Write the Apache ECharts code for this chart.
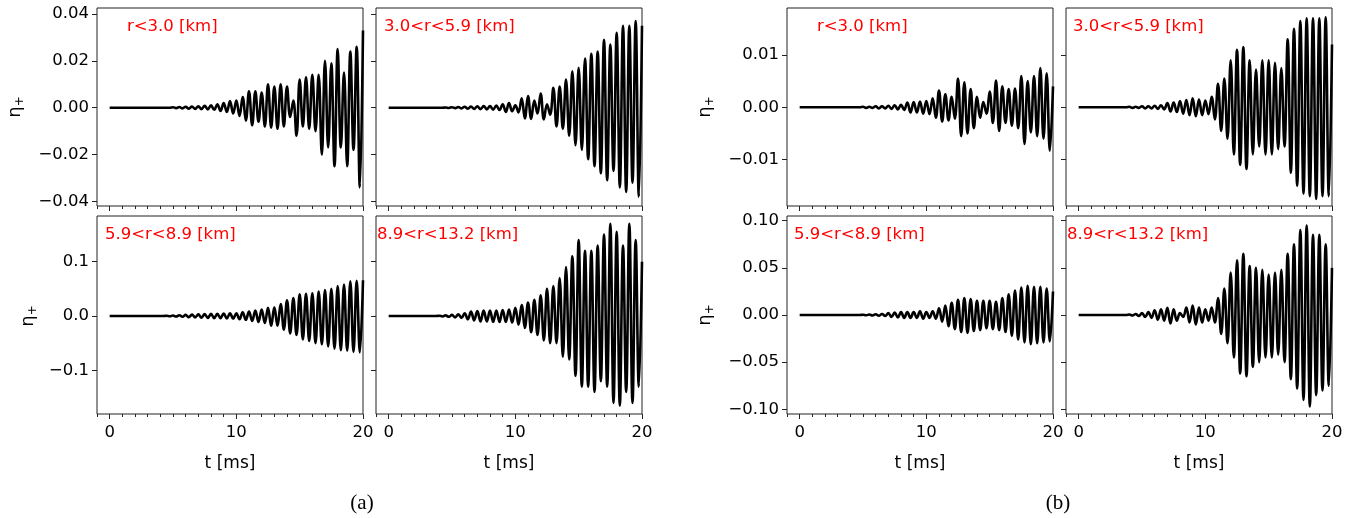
<!DOCTYPE html>
<html><head><meta charset="utf-8">
<script src="https://cdn.jsdelivr.net/npm/echarts@6/dist/echarts.min.js"></script>
<style>html,body{margin:0;padding:0;background:#fff}#c{width:1370px;height:518px}</style>
</head><body><div id="c"></div>
<script>
// time grid of sampled extrema [ms]
const tMs = [0,0.25,0.5,0.75,1,1.25,1.5,1.75,2,2.25,2.5,2.75,3,3.25,3.5,3.75,4,4.25,4.5,4.75,
  5,5.25,5.5,5.75,6,6.25,6.5,6.75,7,7.25,7.5,7.75,8,8.25,8.5,8.75,9,9.25,9.5,9.75,
  10,10.25,10.5,10.75,11,11.25,11.5,11.75,12,12.25,12.5,12.75,13,13.25,13.5,13.75,14,14.25,14.5,14.75,
  15,15.25,15.5,15.75,16,16.25,16.5,16.75,17,17.25,17.5,17.75,18,18.25,18.5,18.75,19,19.25,19.5,19.75,20];

// (a) r<3.0
const a1 = [0,0,0,0,0,0,0,0,0,0,0,0,0,0,0,0,0,0,0,0,
  0.0002,-0.0002,0.0003,-0.0003,0.0004,-0.0004,0.0005,-0.0005,
  0.0006,-0.0006,0.0008,-0.0007,0.001,-0.0009,0.0015,-0.0014,
  0.002,-0.0018,0.0028,-0.0025,0.003,-0.0035,0.0045,-0.0055,
  0.007,-0.0075,0.007,-0.006,0.0065,-0.008,0.01,-0.0085,
  0.009,-0.009,0.01,-0.008,0.009,-0.004,0.003,-0.012,
  0.012,-0.008,0.013,-0.009,0.014,-0.01,0.014,-0.02,
  0.02,-0.017,0.019,-0.025,0.025,-0.017,0.015,-0.025,
  0.024,-0.018,0.026,-0.034,0.033];
// (a) 3.0<r<5.9
const a2 = [0,0,0,0,0,0,0,0,0,0,0,0,0,0,0,0,0,0,
  0.0001,-0.0001,0.0002,-0.0002,0.0003,-0.0003,0.0004,-0.0004,
  0.0005,-0.0005,0.0006,-0.0006,0.0007,-0.0007,0.0007,-0.0008,
  0.0009,-0.001,0.0015,-0.0018,0.002,-0.0015,0.001,-0.002,
  0.004,-0.0046,0.005,-0.0048,0.003,-0.0025,0.006,-0.005,
  0.0015,-0.003,0.0085,-0.008,0.009,-0.009,0.012,-0.012,
  0.0155,-0.016,0.017,-0.018,0.021,-0.022,0.023,-0.025,
  0.024,-0.028,0.029,-0.031,0.027,-0.027,0.032,-0.034,
  0.035,-0.036,0.035,-0.032,0.037,-0.038,0.035];
// (a) 5.9<r<8.9
const a3 = [0,0,0,0,0,0,0,0,0,0,0,0,0,0,0,0,0,0,
  0.0005,-0.0005,0.001,-0.001,0.0015,-0.0015,0.002,-0.002,
  0.0025,-0.0025,0.003,-0.003,0.0035,-0.0035,0.004,-0.004,
  0.004,-0.004,0.0045,-0.0045,0.005,-0.005,0.005,-0.006,
  0.007,-0.007,0.008,-0.009,0.01,-0.011,0.012,-0.013,
  0.015,-0.018,0.016,-0.018,0.022,-0.025,0.029,-0.032,
  0.033,-0.035,0.04,-0.043,0.041,-0.046,0.042,-0.05,
  0.045,-0.052,0.048,-0.056,0.05,-0.06,0.055,-0.063,
  0.058,-0.064,0.064,-0.066,0.065,-0.067,0.066];
// (a) 8.9<r<13.2
const a4 = [0,0,0,0,0,0,0,0,0,0,0,0,0,0,0,0,
  0.0005,-0.0008,0.0012,-0.0015,0.002,-0.0025,0.003,-0.0035,
  0.005,-0.006,0.008,-0.008,0.009,-0.01,0.01,-0.01,
  0.01,-0.011,0.01,-0.011,0.011,-0.011,0.012,-0.012,
  0.015,-0.016,0.02,-0.022,0.025,-0.03,0.03,-0.035,
  0.038,-0.045,0.05,-0.05,0.055,-0.05,0.07,-0.075,
  0.09,-0.08,0.11,-0.11,0.14,-0.13,0.12,-0.13,
  0.12,-0.14,0.13,-0.12,0.15,-0.13,0.17,-0.16,
  0.155,-0.165,0.13,-0.14,0.17,-0.16,0.14,-0.13,0.1];
// (b) r<3.0
const b1 = [0,0,0,0,0,0,0,0,0,0,0,0,0,0,0,0,0,0,0,0,
  0.0001,-0.0001,0.0001,-0.0001,0.0002,-0.0002,0.0002,-0.0002,
  0.0003,-0.0003,0.0004,-0.0004,0.0005,-0.0005,0.0009,-0.001,
  0.001,-0.001,0.0011,-0.0012,0.0012,-0.0013,0.0017,-0.002,
  0.0032,-0.0027,0.0025,-0.0025,0.002,-0.0022,0.0055,-0.0055,
  0.0048,-0.005,0.0035,-0.004,0.002,-0.002,0.001,-0.0012,
  0.003,-0.003,0.0051,-0.0045,0.004,-0.003,0.0035,-0.0035,
  0.0036,-0.004,0.006,-0.007,0.005,-0.0048,0.006,-0.0055,
  0.0075,-0.006,0.0065,-0.0083,0.004];
// (b) 3.0<r<5.9
const b2 = [0,0,0,0,0,0,0,0,0,0,0,0,0,0,0,0,
  0.0001,-0.0001,0.0001,-0.0001,0.0002,-0.0002,0.0002,-0.0002,
  0.0003,-0.0003,0.0004,-0.0004,0.0008,-0.0008,0.0009,-0.0009,
  0.0012,-0.0012,0.0014,-0.0015,0.0017,-0.0017,0.0015,-0.0015,
  0.0013,-0.0013,0.002,-0.0023,0.0045,-0.0045,0.0055,-0.006,
  0.009,-0.009,0.011,-0.011,0.0115,-0.0118,0.009,-0.009,
  0.0072,-0.0075,0.009,-0.009,0.009,-0.009,0.0085,-0.008,
  0.0075,-0.0075,0.013,-0.0125,0.015,-0.015,0.0165,-0.0165,
  0.017,-0.017,0.017,-0.0175,0.017,-0.017,0.0172,-0.017,0.012];
// (b) 5.9<r<8.9
const b3 = [0,0,0,0,0,0,0,0,0,0,0,0,0,0,0,0,0,0,0,0,
  0.0003,-0.0003,0.0005,-0.0005,0.0008,-0.0008,0.001,-0.001,
  0.002,-0.002,0.0025,-0.0025,0.003,-0.003,0.003,-0.003,
  0.003,-0.003,0.004,-0.004,0.003,-0.003,0.004,-0.004,
  0.007,-0.007,0.01,-0.012,0.013,-0.015,0.016,-0.018,
  0.018,-0.019,0.017,-0.017,0.015,-0.016,0.015,-0.014,
  0.015,-0.015,0.014,-0.016,0.018,-0.018,0.022,-0.022,
  0.026,-0.026,0.029,-0.029,0.031,-0.031,0.03,-0.03,
  0.03,-0.029,0.028,-0.028,0.025];
// (b) 8.9<r<13.2
const b4 = [0,0,0,0,0,0,0,0,0,0,0,0,0,0,0,0,
  0.0005,-0.0005,0.001,-0.001,0.002,-0.002,0.003,-0.003,
  0.005,-0.005,0.006,-0.006,0.0077,-0.009,0.006,-0.006,
  0.002,-0.002,0.008,-0.008,0.01,-0.01,0.008,-0.008,
  0.006,-0.006,0.008,-0.008,0.018,-0.02,0.028,-0.03,
  0.045,-0.045,0.058,-0.062,0.065,-0.065,0.052,-0.055,
  0.05,-0.05,0.048,-0.045,0.043,-0.045,0.045,-0.042,
  0.048,-0.05,0.065,-0.068,0.075,-0.078,0.09,-0.09,
  0.095,-0.097,0.085,-0.085,0.085,-0.08,0.075,-0.075,0.05];

const xTicks = [0, 10, 20];
const xTickLabels = ['0', '10', '20'];
const xMinorTicks = [-1,1,2,3,4,5,6,7,8,9,11,12,13,14,15,16,17,18,19];
const yTicksATop = [-0.04, -0.02, 0, 0.02, 0.04];
const yLabelsATop = ['\u22120.04', '\u22120.02', '0.00', '0.02', '0.04'];
const yTicksABot = [-0.1, 0, 0.1];
const yLabelsABot = ['\u22120.1', '0.0', '0.1'];
const yTicksBTop = [-0.01, 0, 0.01];
const yLabelsBTop = ['\u22120.01', '0.00', '0.01'];
const yTicksBBot = [-0.1, -0.05, 0, 0.05, 0.1];
const yLabelsBBot = ['\u22120.10', '\u22120.05', '0.00', '0.05', '0.10'];
const panelNames = ['r<3.0 [km]', '3.0<r<5.9 [km]', '5.9<r<8.9 [km]', '8.9<r<13.2 [km]'];
const xName = 't [ms]';
const yName = 'η';
const groupNames = ['(a)', '(b)'];

const FONT = 'DejaVu Sans';
const FS = 16.5;
const W = 266, H = 198;
const colLeft = [97, 376, 787, 1066];
const rowTop = [8, 216];

const panels = [
  {col:0,row:0,data:a1,ticks:yTicksATop,labels:yLabelsATop,min:-0.04196,max:0.04256,name:panelNames[0],lx:127},
  {col:1,row:0,data:a2,ticks:yTicksATop,labels:yLabelsATop,min:-0.04196,max:0.04256,name:panelNames[1],lx:384},
  {col:0,row:1,data:a3,ticks:yTicksABot,labels:yLabelsABot,min:-0.1805,max:0.1842,name:panelNames[2],lx:105},
  {col:1,row:1,data:a4,ticks:yTicksABot,labels:yLabelsABot,min:-0.1805,max:0.1842,name:panelNames[3],lx:377},
  {col:2,row:0,data:b1,ticks:yTicksBTop,labels:yLabelsBTop,min:-0.01887,max:0.01899,name:panelNames[0],lx:817},
  {col:3,row:0,data:b2,ticks:yTicksBTop,labels:yLabelsBTop,min:-0.01887,max:0.01899,name:panelNames[1],lx:1073},
  {col:2,row:1,data:b3,ticks:yTicksBBot,labels:yLabelsBBot,min:-0.105,max:0.105,name:panelNames[2],lx:794},
  {col:3,row:1,data:b4,ticks:yTicksBBot,labels:yLabelsBBot,min:-0.105,max:0.105,name:panelNames[3],lx:1067}
];

const grid = [], xAxis = [], yAxis = [], series = [], graphic = [];
panels.forEach((p, i) => {
  grid.push({left: colLeft[p.col], top: rowTop[p.row], width: W, height: H,
    show: true, borderColor: '#222', borderWidth: 1, backgroundColor: '#fff'});
  const bottomRow = p.row === 1;
  const leftCol = (p.col % 2) === 0;
  xAxis.push({type: 'value', gridIndex: i, min: -1, max: 20, position: 'bottom',
    axisLine: {show: false, onZero: false}, splitLine: {show: false},
    axisTick: {show: true, customValues: xTicks, length: 5, lineStyle: {color: '#222', width: 1}},
    axisLabel: {show: bottomRow, customValues: xTicks, margin: 10, color: '#000', fontFamily: FONT, fontSize: FS,
      formatter: v => xTickLabels[xTicks.indexOf(v)]},
    name: bottomRow ? xName : '', nameLocation: 'middle', nameGap: 41,
    nameTextStyle: {color: '#000', fontFamily: FONT, fontSize: 17}});
  xAxis.push({type: 'value', gridIndex: i, min: -1, max: 20, position: 'bottom',
    axisLine: {show: false, onZero: false}, splitLine: {show: false},
    axisTick: {show: true, customValues: xMinorTicks, length: 3, lineStyle: {color: '#222', width: 1}},
    axisLabel: {show: false}});
  yAxis.push({type: 'value', gridIndex: i, min: p.min, max: p.max, position: 'left',
    axisLine: {show: false, onZero: false}, splitLine: {show: false},
    axisTick: {show: true, customValues: p.ticks, length: 5, lineStyle: {color: '#222', width: 1}},
    axisLabel: {show: leftCol, customValues: p.ticks, margin: 8, color: '#000', fontFamily: FONT, fontSize: FS,
      formatter: v => { let k = p.ticks.findIndex(t => Math.abs(t - v) < 1e-9); return k >= 0 ? p.labels[k] : ''; }}});
  series.push({type: 'line', xAxisIndex: 2 * i, yAxisIndex: i,
    data: tMs.map((t, k) => [t, p.data[k]]),
    showSymbol: false, smooth: 0.4, lineStyle: {color: '#000', width: 2.6}, silent: true});
  graphic.push({type: 'text', x: p.lx, y: rowTop[p.row] + 19, z: 100,
    style: {text: p.name, fill: '#ff0000', font: FS + 'px "' + FONT + '"', align: 'left', verticalAlign: 'middle'}});
});

const yNamePos = [[15, 107], [28, 316], [705, 107], [705, 315]];
yNamePos.forEach(([x, y]) => {
  graphic.push({type: 'text', x: x, y: y, rotation: Math.PI / 2, z: 100,
    style: {text: '{e|' + yName + '}{s|+}', align: 'center', verticalAlign: 'middle', fill: '#000',
      rich: {e: {fontFamily: FONT, fontSize: 18, fill: '#000'},
             s: {fontFamily: FONT, fontSize: 12, fill: '#000', verticalAlign: 'bottom', padding: [0, 0, -2, 0]}}}});
});
graphic.push({type: 'text', x: 362, y: 503, style: {text: groupNames[0], fill: '#000', font: '21px "Liberation Serif"', align: 'center', verticalAlign: 'middle'}});
graphic.push({type: 'text', x: 1058, y: 503, style: {text: groupNames[1], fill: '#000', font: '21px "Liberation Serif"', align: 'center', verticalAlign: 'middle'}});

const chart = echarts.init(document.getElementById('c'), null, {renderer: 'canvas'});
chart.setOption({animation: false, backgroundColor: '#fff', grid, xAxis, yAxis, series, graphic});
</script></body></html>
